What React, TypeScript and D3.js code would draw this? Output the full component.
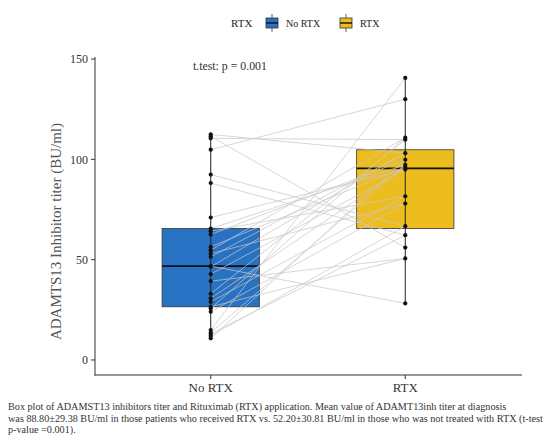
import React from "react";
import * as d3 from "d3";

const categories = ["No RTX", "RTX"];
const noRtxValues = [112.4, 111.5, 110.5, 104.8, 92.4, 88.2, 71, 65.5, 64.2, 62.5, 56.4, 54.7, 53, 51.4, 46.8, 46.5, 42.8, 39.3, 33, 30.7, 29, 26.5, 25.7, 24, 14.9, 13.6, 13, 12, 10.8];
const noRtxPartner = [103.1, 56, 109.8, 130, 66.7, 62.2, 94.9, 97.3, 81.6, 99.8, 96.2, 110.8, 78, 103.1, 28.2, 103.1, 94.9, 50.6, 109.8, 96.2, 81.6, 50.6, 110.8, 78, 140.6, 97.3, 62.2, 66.7, 99.8];
const rtxValues = [140.6, 130, 110.8, 109.8, 103.1, 99.8, 97.3, 96.2, 94.9, 81.6, 78, 66.7, 62.2, 56, 50.6, 28.2];
const yTicks = [0, 50, 100, 150];
const colors = ["#2872C3", "#EDBD1E"];
const captionLines = [
  "Box plot of ADAMST13 inhibitors titer and Rituximab (RTX) application. Mean value of ADAMT13inh titer at diagnosis",
  "was 88.80±29.38 BU/ml in those patients who received RTX vs. 52.20±30.81 BU/ml in those who was not treated with RTX (t-test",
  "p-value =0.001).",
];

const W = 558;
const H = 442;
const FONT = "'Liberation Serif', 'DejaVu Serif', serif";

function stats(vals: number[]) {
  const s = [...vals].sort(d3.ascending);
  const q1 = d3.quantile(s, 0.25)!;
  const med = d3.quantile(s, 0.5)!;
  const q3 = d3.quantile(s, 0.75)!;
  const iqr = q3 - q1;
  const lo = d3.min(s.filter((v) => v >= q1 - 1.5 * iqr))!;
  const hi = d3.max(s.filter((v) => v <= q3 + 1.5 * iqr))!;
  return { q1, med, q3, lo, hi };
}

export default function App() {
  const x = d3.scalePoint<string>().domain(categories).range([94, 522]).padding(0.6);
  const y = d3.scaleLinear().domain([-7.5, 157.5]).range([375, 44]);
  const bw = x.step() * 0.5;
  const groups = [noRtxValues, rtxValues];

  return (
    <svg width={W} height={H} style={{ position: "absolute", left: 0, top: 0, background: "#fff" }} fontFamily={FONT}>
      {/* legend */}
      <g fill="#222">
        <text x={231} y={27} fontSize={11}>RTX</text>
        {categories.map((c, i) => {
          const lx = [266, 340][i];
          return (
            <g key={c}>
              <line x1={lx + 6} x2={lx + 6} y1={14} y2={32} stroke="#333" strokeWidth={0.8} />
              <rect x={lx} y={18} width={12} height={10} fill={colors[i]} stroke="#333" strokeWidth={0.8} />
              <line x1={lx} x2={lx + 12} y1={23} y2={23} stroke="#111" strokeWidth={1.4} />
              <text x={lx + 20} y={27} fontSize={10}>{c}</text>
            </g>
          );
        })}
      </g>

      {/* boxes */}
      {groups.map((vals, i) => {
        const st = stats(vals);
        const cx = x(categories[i])!;
        return (
          <g key={i}>
            <rect x={cx - bw / 2} y={y(st.q3)} width={bw} height={y(st.q1) - y(st.q3)} fill={colors[i]} stroke="#333" strokeWidth={0.8} />
            <line x1={cx} x2={cx} y1={y(st.hi)} y2={y(st.lo)} stroke="#222" strokeWidth={1} />
            <line x1={cx - bw / 2} x2={cx + bw / 2} y1={y(st.med)} y2={y(st.med)} stroke="#111" strokeWidth={1.8} />
          </g>
        );
      })}

      {/* paired lines */}
      <g stroke="#cdc6c6" strokeWidth={0.8} opacity={0.9}>
        {noRtxValues.map((v, i) => (
          <line key={i} x1={x(categories[0])!} y1={y(v)} x2={x(categories[1])!} y2={y(noRtxPartner[i])} />
        ))}
      </g>

      {/* points */}
      <g fill="#111">
        {groups.map((vals, i) =>
          vals.map((v, j) => <circle key={`${i}-${j}`} cx={x(categories[i])!} cy={y(v)} r={2.1} />)
        )}
      </g>

      {/* axes */}
      <line x1={95} x2={95} y1={y(150) - 2} y2={375.5} stroke="#333" strokeWidth={1} />
      <line x1={94.5} x2={522} y1={375} y2={375} stroke="#333" strokeWidth={1} />
      {yTicks.map((t) => (
        <g key={t}>
          <line x1={91} x2={95} y1={y(t)} y2={y(t)} stroke="#333" strokeWidth={1} />
          <text x={88} y={y(t)} dy="0.35em" textAnchor="end" fontSize={12} fill="#333">{t}</text>
        </g>
      ))}
      {categories.map((c) => (
        <g key={c}>
          <line x1={x(c)!} x2={x(c)!} y1={375} y2={379} stroke="#333" strokeWidth={1} />
          <text x={x(c)!} y={392} textAnchor="middle" fontSize={13} fill="#333">{c}</text>
        </g>
      ))}
      <text transform={`translate(61,${y(64)}) rotate(-90)`} textAnchor="middle" fontSize={15} fill="#555">
        ADAMTS13 Inhibitor titer (BU/ml)
      </text>

      <text x={193} y={70} fontSize={11.8} fill="#333">t.test: p = 0.001</text>

      {/* caption */}
      <g fontSize={10.2} fill="#333">
        {captionLines.map((l, i) => (
          <text key={i} x={8} y={410 + i * 11.5}>{l}</text>
        ))}
      </g>
    </svg>
  );
}
